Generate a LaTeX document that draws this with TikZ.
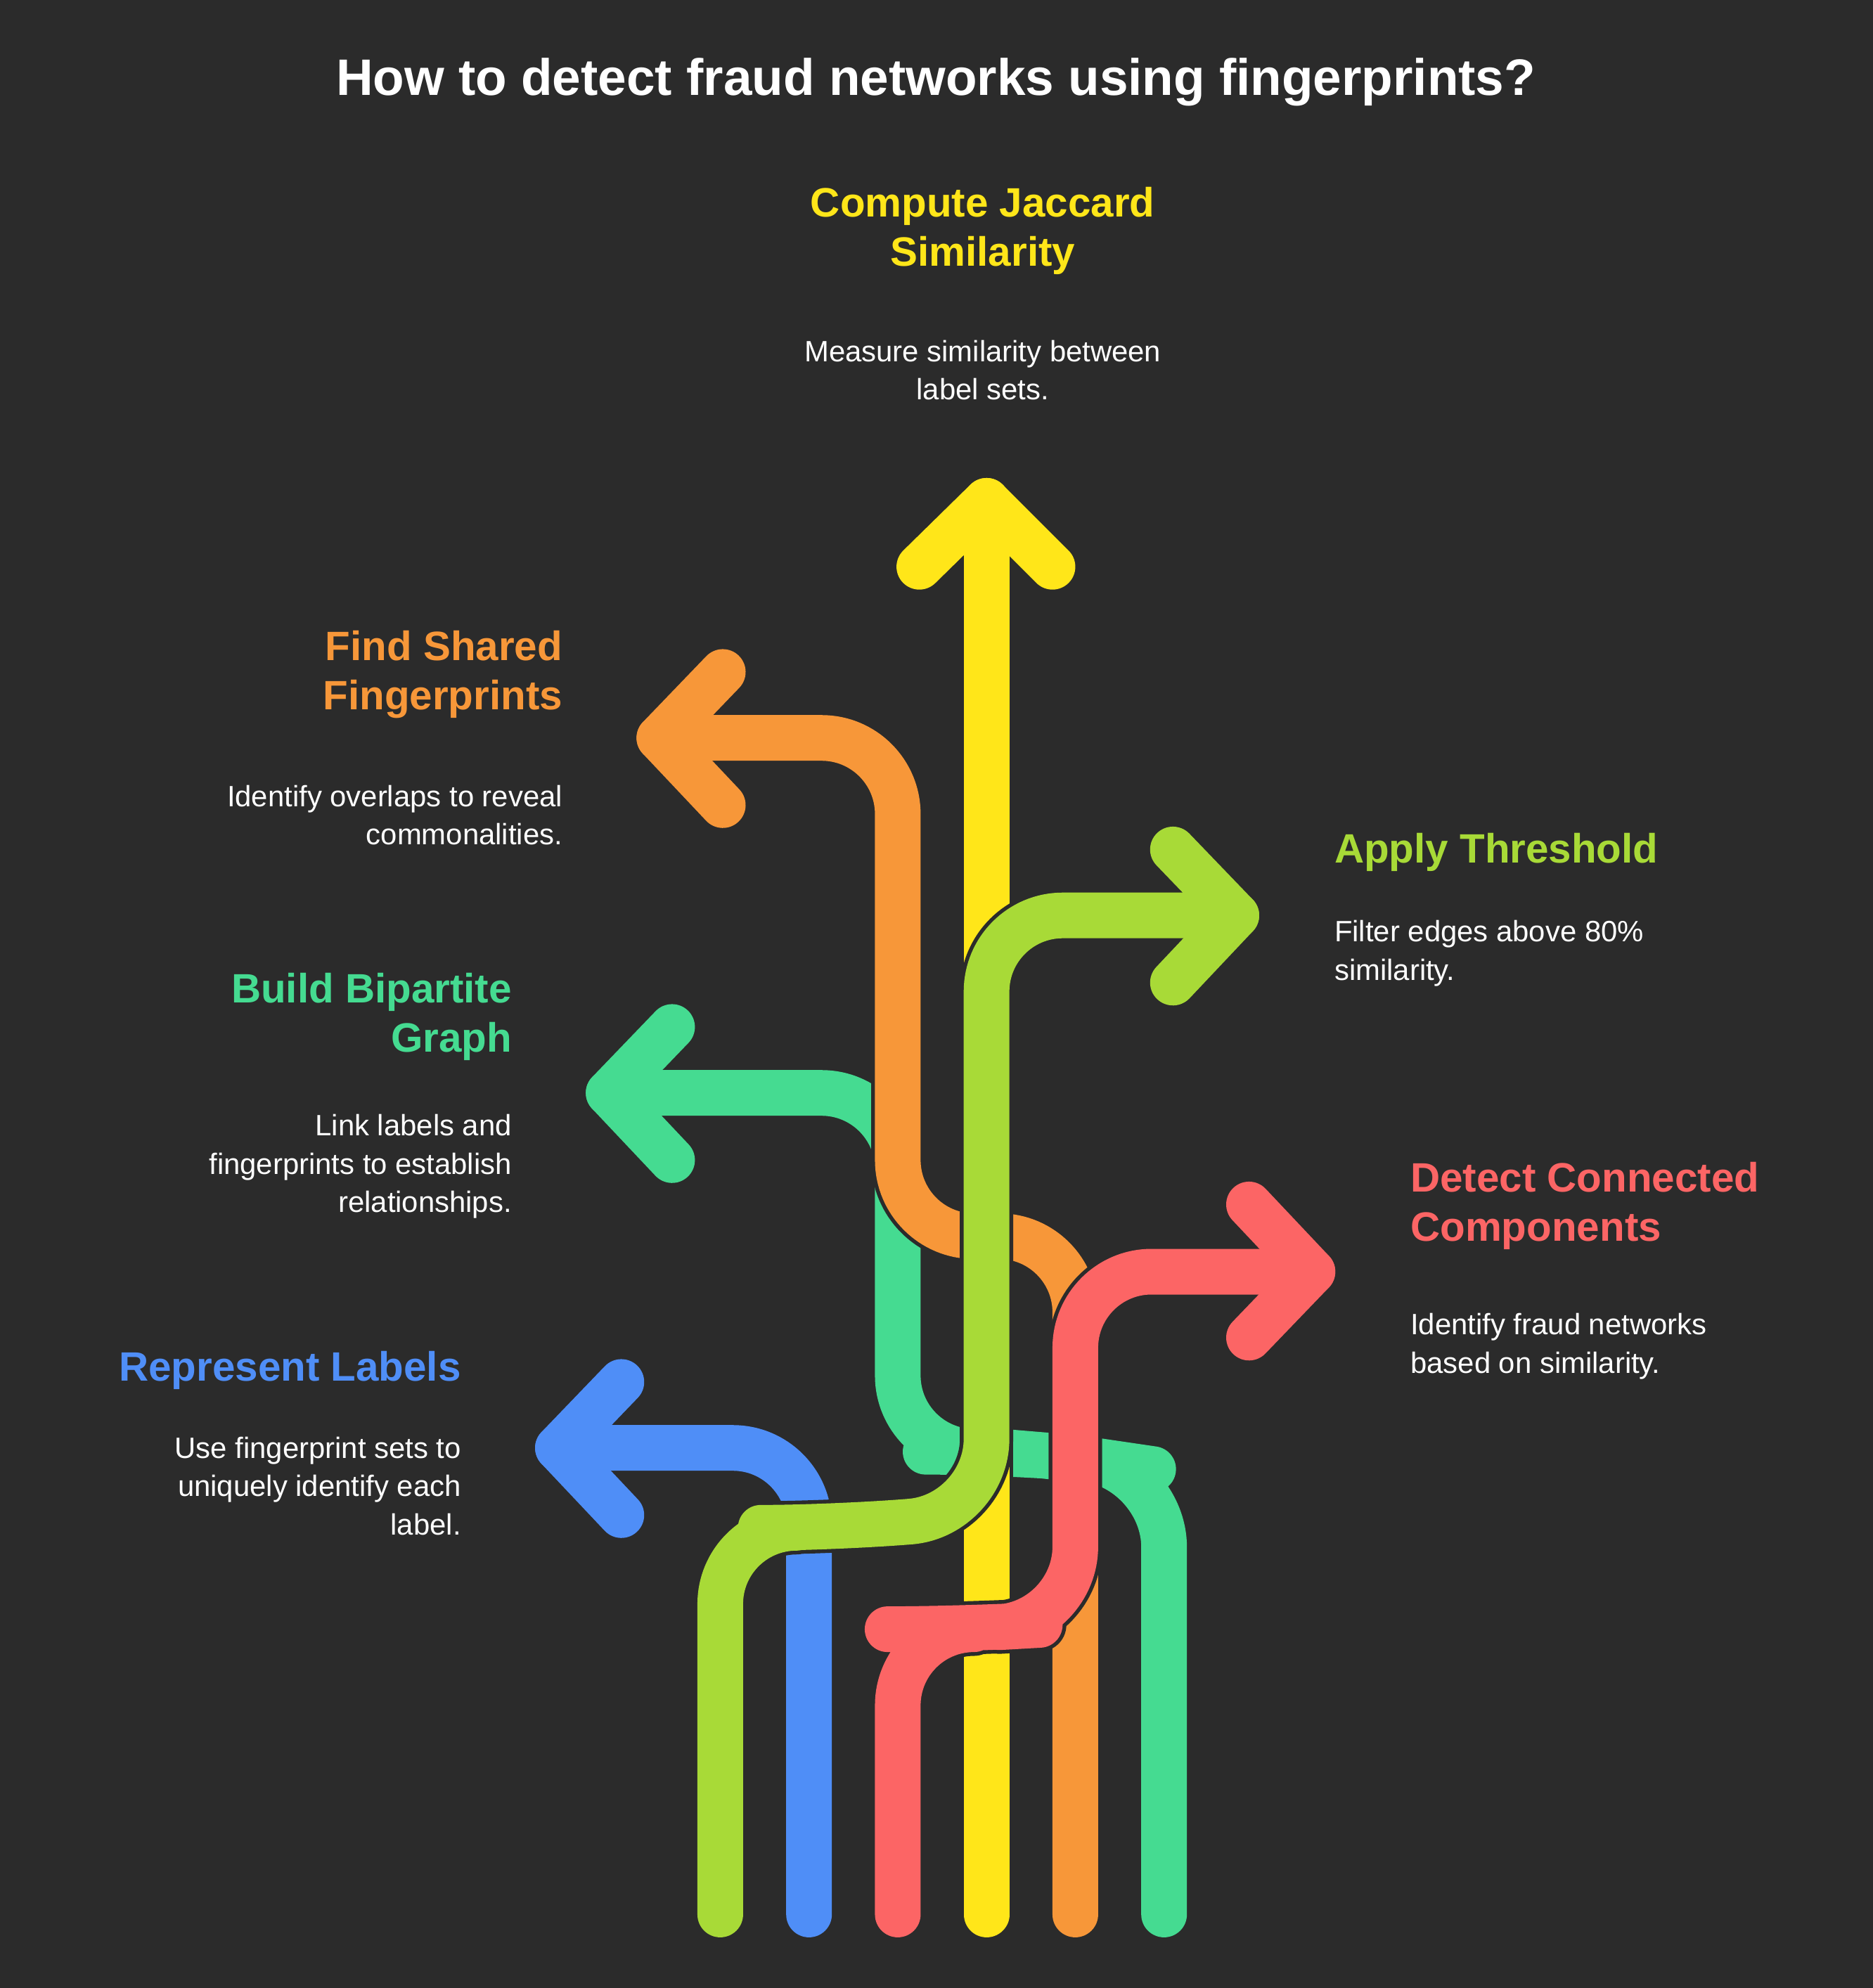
\documentclass[tikz,border=0pt]{standalone}
\usepackage{fontspec}
\setmainfont{Liberation Sans}
\definecolor{bg}{HTML}{2B2B2B}
\definecolor{cY}{HTML}{FFE619}
\definecolor{cO}{HTML}{F79739}
\definecolor{cG}{HTML}{45DB91}
\definecolor{cL}{HTML}{A8DA37}
\definecolor{cB}{HTML}{4F8EF7}
\definecolor{cR}{HTML}{FC6565}
\begin{document}
\begin{tikzpicture}[x=0.01cm,y=-0.01cm,
  outl/.style={draw=bg,line width=0.42cm,line cap=round,line join=round,rounded corners=0.6cm},
  strand/.style={draw=#1,line width=0.36cm,line cap=round,line join=round,rounded corners=0.6cm},
  head/.style={font=\bfseries\fontsize{9.2}{11}\selectfont,align=#1},
  body/.style={text=white,font=\fontsize{6.6}{8.6}\selectfont,align=#1}]
\fill[bg] (0,0) rectangle (1477,1568);
\node[text=white,font=\bfseries\fontsize{11.5}{14}\selectfont] (title) at (738,65) {How to detect fraud networks using fingerprints?};
% strands
\coordinate (gB) at (918,1510); \coordinate (gT) at (480,862);
\coordinate (oB) at (848,1510); \coordinate (oT) at (520,582);
\coordinate (yB) at (778,1510); \coordinate (yT) at (778,395);
\coordinate (lB) at (568,1510); \coordinate (lT) at (975,722);
\coordinate (bB) at (638,1510); \coordinate (bT) at (440,1142);
\coordinate (rB) at (708,1510); \coordinate (rT) at (1035,1003);
\foreach \c/\p in {cG/{(gB) -- (918,1160) -- (850,1150) -- (790,1145) -- (708,1145) -- (708,862) -- (gT)},
                   cO/{(oB) -- (848,975) -- (708,975) -- (708,582) -- (oT)},
                   cY/{(yB) -- (yT)},
                   cB/{(bB) -- (638,1142) -- (bT)},
                   cL/{(lB) -- (568,1205) -- (660,1205) -- (778,1195) -- (778,722) -- (lT)},
                   cR/{(rB) -- (708,1285) -- (760,1285) -- (848,1280) -- (848,1003) -- (rT)}}{
  \path[outl] \p;
  \path[strand=\c] \p;
}
% heads
\foreach \c/\t/\a/\b in {cG/gT/{530,810}/{530,915}, cO/oT/{570,530}/{570,635}, cY/yT/{725,447}/{830,447},
                         cB/bT/{490,1090}/{490,1195}, cL/lT/{925,670}/{925,775}, cR/rT/{985,950}/{985,1055}}{
  \draw[\c,line width=0.36cm,line cap=round,line join=round] (\a) -- (\t) -- (\b);
}
% texts
\node[head=center,text=cY] (h1) at (775,182) {Compute Jaccard\\Similarity};
\node[body=center] (b1) at (775,292) {Measure similarity between\\label sets.};
\node[head=right,text=cO,anchor=east] (h2) at (456,532) {Find Shared\\Fingerprints};
\node[body=right,anchor=east] (b2) at (456,643) {Identify overlaps to reveal\\commonalities.};
\node[head=left,text=cL,anchor=west] (h3) at (1040,672) {Apply Threshold};
\node[body=left,anchor=west] (b3) at (1040,752) {Filter edges above 80\%\\similarity.};
\node[head=right,text=cG,anchor=east] (h4) at (416,802) {Build Bipartite\\Graph};
\node[body=right,anchor=east] (b4) at (416,920) {Link labels and\\fingerprints to establish\\relationships.};
\node[head=left,text=cR,anchor=west] (h5) at (1100,951) {Detect Connected\\Components};
\node[body=left,anchor=west] (b5) at (1100,1062) {Identify fraud networks\\based on similarity.};
\node[head=right,text=cB,anchor=east] (h6) at (376,1081) {Represent Labels};
\node[body=right,anchor=east] (b6) at (376,1172) {Use fingerprint sets to\\uniquely identify each\\label.};
\end{tikzpicture}
\end{document}
